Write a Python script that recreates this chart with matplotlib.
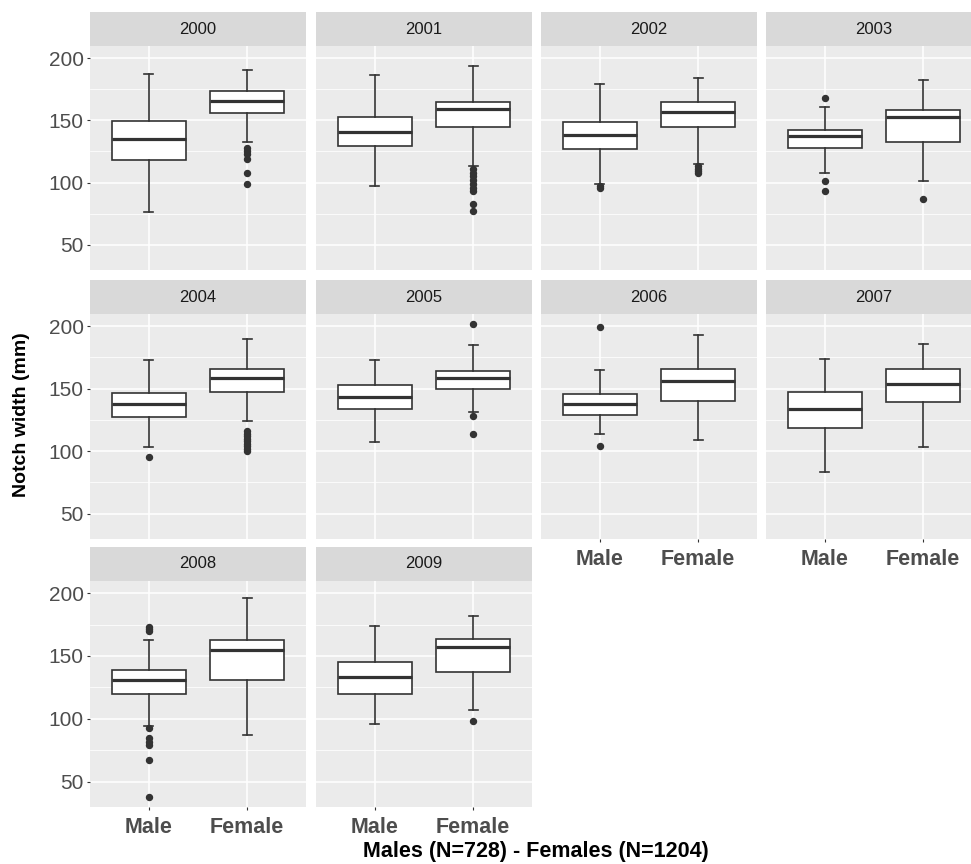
import matplotlib
matplotlib.use("Agg")
import matplotlib.pyplot as plt

plt.rcParams['font.family'] = ['Liberation Sans', 'DejaVu Sans']

years = [2000, 2001, 2002, 2003, 2004, 2005, 2006, 2007, 2008, 2009]
sexes = ["Male", "Female"]

# box stats (mm)
male_low = [76, 97, 99, 108, 103.5, 107, 114, 83, 94, 95.5]
male_q1 = [118, 129, 127, 128, 127.5, 134, 129, 118.5, 120, 120]
male_med = [135, 140.5, 138.5, 137.5, 137.5, 143, 137.5, 133.5, 130.5, 133]
male_q3 = [149.5, 153, 148.5, 142, 146.5, 153, 145.5, 147.5, 139, 145]
male_high = [187.5, 186.5, 179, 161, 173, 173, 165, 174, 163, 173.5]
male_out = [
    [],
    [],
    [96, 97.5],
    [168, 101, 93.5],
    [95.5],
    [],
    [199, 104.5],
    [],
    [173, 171.5, 169.5, 92.5, 85, 81.5, 79, 67, 38],
    [],
]

female_low = [132.5, 113, 115, 101, 124, 131.5, 109, 103.5, 87, 107]
female_q1 = [156, 144.5, 145, 132.5, 147.5, 150, 140.5, 139, 131, 137]
female_med = [165.5, 159, 157, 152.5, 158.5, 158.5, 156, 154, 155, 157.5]
female_q3 = [173.5, 165, 165, 158.5, 166, 164.5, 165.5, 165.5, 163, 163.5]
female_high = [190.5, 194, 184, 182, 190, 184.5, 192.5, 186, 196, 182]
female_out = [
    [128, 125.5, 123, 119, 108, 99],
    [111, 108, 105, 102, 99, 96, 93, 82.5, 77],
    [113.5, 111, 109, 107.5],
    [87],
    [116, 114, 112, 110, 108, 106, 104, 102, 100],
    [201.5, 128.5, 113.5],
    [],
    [],
    [],
    [98.5],
]

x_label = "Males (N=728) - Females (N=1204)"
y_label = "Notch width (mm)"

W, H = 971, 864
fig = plt.figure(figsize=(W / 100, H / 100), dpi=100)

col_left = [90, 316, 541, 766]
panel_w = 216
panel_top = [46, 314, 581]
panel_bot = [270, 539, 807]
strip_h = 34

all_vals = male_low + female_low + male_high + female_high
for o in male_out + female_out:
    all_vals += o
lo, hi = min(all_vals), max(all_vals)
pad = (hi - lo) * 0.05

gray = "#333333"

for i, yr in enumerate(years):
    r, c = divmod(i, 4)
    l = col_left[c]
    t = panel_top[r]
    b = panel_bot[r]
    ax = fig.add_axes([l / W, 1 - b / H, panel_w / W, (b - t) / H])
    ax.set_facecolor("#EBEBEB")

    stats = [
        dict(whislo=male_low[i], q1=male_q1[i], med=male_med[i], q3=male_q3[i],
             whishi=male_high[i], fliers=male_out[i]),
        dict(whislo=female_low[i], q1=female_q1[i], med=female_med[i], q3=female_q3[i],
             whishi=female_high[i], fliers=female_out[i]),
    ]
    ax.bxp(stats, positions=[1, 2], widths=0.75, capwidths=0.09,
           patch_artist=True, manage_ticks=False,
           boxprops=dict(facecolor="white", edgecolor=gray, linewidth=1.2),
           whiskerprops=dict(color=gray, linewidth=1.2),
           capprops=dict(color=gray, linewidth=1.2),
           medianprops=dict(color=gray, linewidth=2.3),
           flierprops=dict(marker="o", markerfacecolor=gray, markeredgecolor=gray,
                           markersize=4.3, linestyle="none"),
           zorder=3)

    ax.set_xlim(0.4, 2.6)
    ax.set_ylim(lo - pad, hi + pad)
    ax.set_yticks([50, 100, 150, 200])
    ax.set_yticks([75, 125, 175], minor=True)
    ax.set_xticks([1, 2])
    ax.grid(True, which="major", color="white", linewidth=1.1)
    ax.grid(True, which="minor", axis="y", color="white", linewidth=0.55)
    ax.set_axisbelow(True)
    for s in ax.spines.values():
        s.set_visible(False)

    ax.tick_params(which="minor", length=0)
    ax.tick_params(which="major", length=2.5, color=gray, width=0.8)
    if c == 0:
        ax.set_yticklabels(["50", "100", "150", "200"], fontsize=15, color="#4D4D4D")
        ax.tick_params(axis="y", pad=2)
    else:
        ax.tick_params(axis="y", which="major", length=0, labelleft=False)

    bottom_of_col = (r == 2) or (r == 1 and c >= 2)
    if bottom_of_col:
        ax.set_xticklabels(sexes, fontsize=15.5, fontweight="bold", color="#4D4D4D")
        ax.tick_params(axis="x", pad=5)
    else:
        ax.tick_params(axis="x", length=0, labelbottom=False)

    sax = fig.add_axes([l / W, 1 - t / H, panel_w / W, strip_h / H])
    sax.set_facecolor("#D9D9D9")
    sax.set_xticks([])
    sax.set_yticks([])
    for s in sax.spines.values():
        s.set_visible(False)
    sax.text(0.5, 0.5, str(yr), ha="center", va="center", fontsize=12,
             color="#1A1A1A", transform=sax.transAxes)

fig.text(536 / W, 1 - 851 / H, x_label, ha="center", va="center",
         fontsize=15.5, fontweight="bold", color="black")
fig.text(22 / W, 1 - 415 / H, y_label, ha="center", va="center", rotation=90,
         fontsize=14, fontweight="bold", color="black")

fig.savefig("out.png", dpi=100)
